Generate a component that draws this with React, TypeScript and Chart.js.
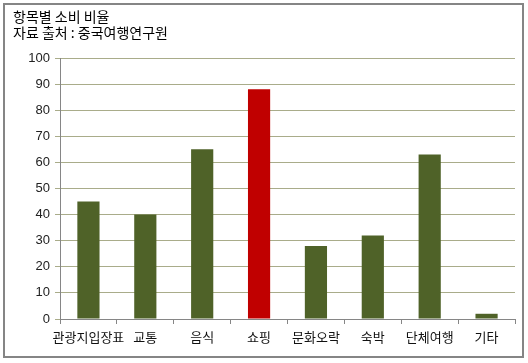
import React, { useEffect, useRef } from "react";
import { Chart, registerables } from "chart.js";
Chart.register(...registerables);

const titleLines = ["항목별 소비 비율", "자료 출처 : 중국여행연구원"];
const categories = ["관광지입장표", "교통", "음식", "쇼핑", "문화오락", "숙박", "단체여행", "기타"];
const values = [45, 40, 65, 88, 28, 32, 63, 2];
const barColors = ["#4F6228", "#4F6228", "#4F6228", "#C00000", "#4F6228", "#4F6228", "#4F6228", "#4F6228"];
const yTicks = [0, 10, 20, 30, 40, 50, 60, 70, 80, 90, 100];

const titlePlugin = {
  id: "titleText",
  afterDraw(chart: any) {
    const ctx = chart.ctx;
    ctx.save();
    ctx.fillStyle = "#000";
    ctx.font = "14px 'Noto Sans CJK KR'";
    ctx.textBaseline = "middle";
    ctx.textAlign = "left";
    titleLines.forEach((t, i) => ctx.fillText(t, 13, 17 + i * 16));
    ctx.restore();
  },
};

export default function App() {
  const ref = useRef<HTMLCanvasElement>(null);
  useEffect(() => {
    const chart = new Chart(ref.current!, {
      type: "bar",
      data: {
        labels: categories,
        datasets: [
          {
            data: values,
            backgroundColor: barColors,
            borderWidth: 0,
            barPercentage: 0.39,
            categoryPercentage: 1,
          },
        ],
      },
      plugins: [titlePlugin],
      options: {
        animation: false,
        responsive: false,
        events: [],
        layout: { padding: { left: 18, right: 13, top: 58, bottom: 14 } },
        plugins: { legend: { display: false }, tooltip: { enabled: false }, title: { display: false } },
        scales: {
          y: {
            min: 0,
            max: 100,
            afterBuildTicks: (s: any) => {
              s.ticks = yTicks.map((v) => ({ value: v }));
            },
            afterFit: (s: any) => {
              s.width = 42;
            },
            grid: { color: "#A9AC8A", tickLength: 5, lineWidth: 1 },
            border: { color: "#868686", width: 1 },
            ticks: {
              color: "#222",
              font: { family: "'Liberation Sans'", size: 13 },
              padding: 5,
            },
          },
          x: {
            afterFit: (s: any) => {
              s.height = 30;
            },
            grid: { drawOnChartArea: false, offset: true, tickLength: 5, color: "#868686" },
            border: { color: "#868686", width: 1 },
            ticks: {
              color: "#111",
              font: { family: "'Noto Sans CJK KR'", size: 13 },
              padding: 5,
              maxRotation: 0,
              autoSkip: false,
            },
          },
        },
      },
    });
    return () => chart.destroy();
  }, []);
  return (
    <div style={{ position: "fixed", left: 0, top: 0, width: 528, height: 363, background: "#fff" }}>
      <canvas ref={ref} width={528} height={363} style={{ position: "absolute", left: 0, top: 0 }} />
      <div
        style={{
          position: "absolute",
          left: 3,
          top: 3,
          width: 521,
          height: 355,
          boxSizing: "border-box",
          border: "2px solid #858585",
          pointerEvents: "none",
        }}
      />
    </div>
  );
}
